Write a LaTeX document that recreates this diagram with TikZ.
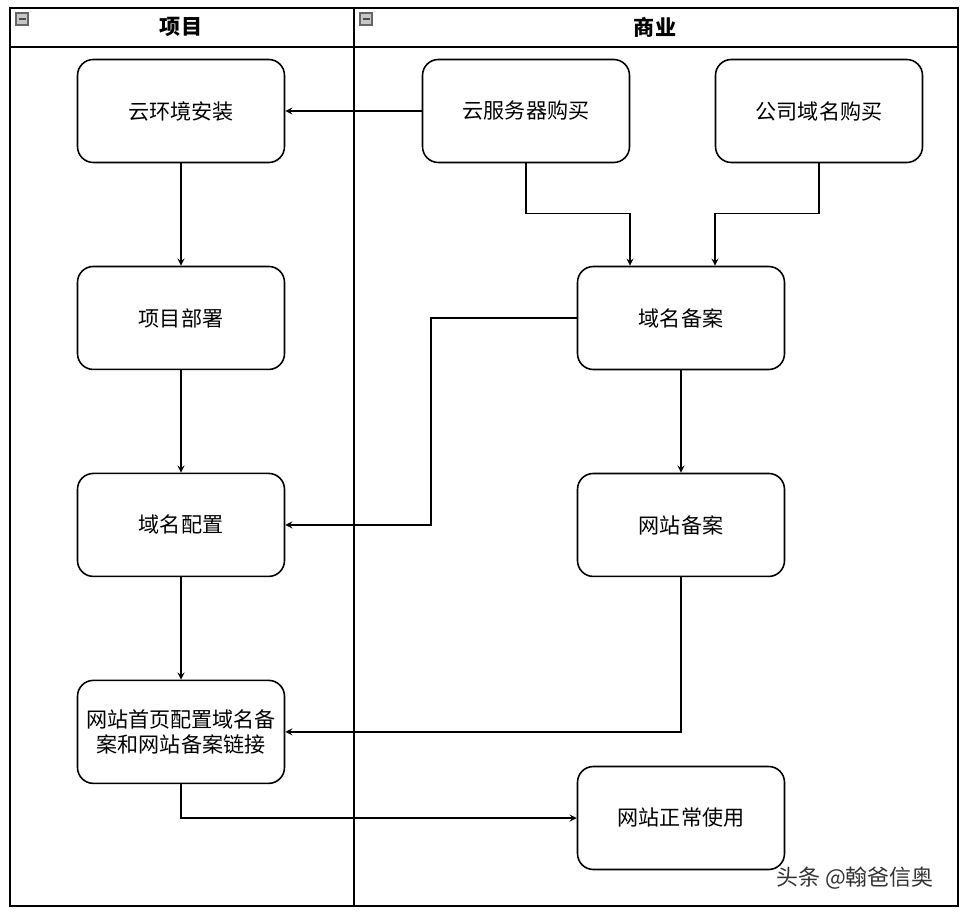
\documentclass[tikz,border=0pt]{standalone}
\usepackage{fontspec}
\setmainfont{Noto Sans CJK SC}
\usepackage{tikz}
\usetikzlibrary{arrows,calc,positioning}
\tikzset{%
	block/.style    = {draw, rounded corners=9pt, line width=0.9pt, minimum height=2.06cm, minimum width=4.14cm, text width=3.9cm, align=center, font=\fontsize{12}{14.2}\selectfont}, % Step
	lane/.style     = {draw, line width=1pt}, % Swimlane
	title/.style    = {font=\fontsize{12}{14}\selectfont\bfseries}, % Lane title
	toggle/.style   = {draw=gray!80!black, fill=gray!45, line width=0.6pt}, % Collapse icon
	flow/.style     = {->, >=stealth, line width=0.8pt}, % Connector
	waypoint/.style = {coordinate},
}
\begin{document}
\begin{tikzpicture}[x=0.02cm, y=-0.02cm, node distance=4.14cm]
		\useasboundingbox (0,0) rectangle (966,912);
		% swimlanes
		\draw[lane] (10,8) rectangle (958,906);
		\draw[lane] (10,47) -- (958,47);
		\draw[lane] (354,8) -- (354,906);
		\node[title] (project) at (181,27) {项目};
		\node[title] (business) at (655,27) {商业};
		\draw[toggle] (16,13) rectangle (28,25);
		\draw[black!70, line width=0.8pt] (18.5,19) -- (25.5,19);
		\draw[toggle] (360,13) rectangle (372,25);
		\draw[black!70, line width=0.8pt] (362.5,19) -- (369.5,19);
		% project lane
		\node[block] (env) at (181,111) {云环境安装};
		\node[block, below of=env] (deploy) {项目部署};
		\node[block, below of=deploy] (config) {域名配置};
		\node[block, below of=config] (home) {网站首页配置域名备\\案和网站备案链接};
		% business lane
		\node[block] (server) at (526,111) {云服务器购买};
		\node[block] (domain) at (819,111) {公司域名购买};
		\node[block] (icp) at (681,318) {域名备案};
		\node[block, below of=icp] (siterec) {网站备案};
		\node[block] (online) at (681,818) {网站正常使用};
		\node[waypoint] (wp) at (431,0) {};
		\draw[flow] (server) -- (env);
		\draw[flow] (env) -- (deploy);
		\draw[flow] (deploy) -- (config);
		\draw[flow] (config) -- (home);
		\draw[flow] (server.south) |- ($(icp.north)+(-51,-52)$) -- ($(icp.north)+(-51,0)$);
		\draw[flow] (domain.south) |- ($(icp.north)+(34,-52)$) -- ($(icp.north)+(34,0)$);
		\draw[flow] (icp.west) -| (wp |- config.east) -- (config.east);
		\draw[flow] (icp) -- (siterec);
		\draw[flow] (siterec.south) |- (home.east);
		\draw[flow] (home.south) |- (online.west);
		% watermark
		\node[font=\fontsize{12.5}{14}\selectfont, text=black!80] (mark) at (855,878) {头条 @翰爸信奥};
		\end{tikzpicture}
\end{document}
